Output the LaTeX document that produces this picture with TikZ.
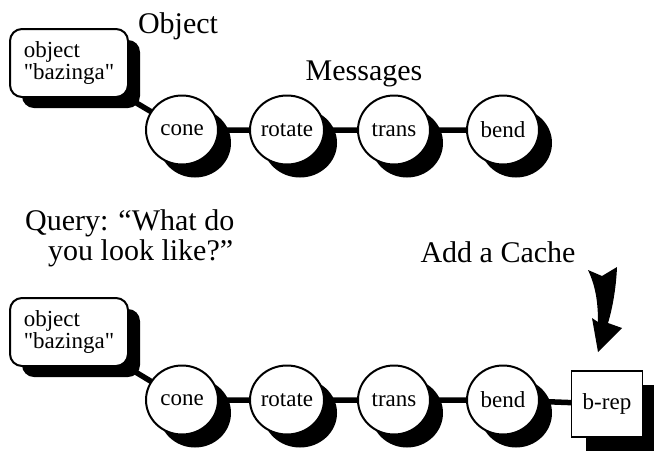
\documentclass[tikz,border=0pt]{standalone}
\usepackage{fontspec}
\setmainfont{Liberation Serif}[Ligatures=TeXOff]
\usetikzlibrary{shapes.geometric,shadows}
\pgfdeclarelayer{background}
\pgfsetlayers{background,main}
\tikzset{
  big/.style={font=\fontsize{30}{30}\selectfont, inner sep=0pt},
  msg/.style={ellipse, draw, line width=2pt, fill=white, minimum width=72pt, minimum height=69pt,
    inner sep=0pt, font=\fontsize{23}{20}\selectfont,
    drop shadow={shadow xshift=13pt, shadow yshift=-13pt, fill=black, opacity=1}},
  objbox/.style={rectangle, rounded corners=12pt, draw, line width=2pt, fill=white,
    minimum width=118pt, minimum height=68pt, align=left, inner sep=0pt,
    font=\fontsize{23}{20}\selectfont,
    drop shadow={shadow xshift=12pt, shadow yshift=-11pt, fill=black, opacity=1}},
  cachebox/.style={rectangle, draw, line width=1.6pt, fill=white, minimum width=71pt,
    minimum height=66pt, inner sep=0pt, font=\fontsize{23}{20}\selectfont,
    drop shadow={shadow xshift=14pt, shadow yshift=-14pt, fill=black, opacity=1}},
  link/.style={line width=5.5pt}
}
\begin{document}
\begin{tikzpicture}[x=1pt, y=-1pt]
\useasboundingbox (0,0) rectangle (654,451);
% top row
\node[big, anchor=base] (objlabel) at (178,33) {Object};
\node[big, anchor=base] (msglabel) at (364,80) {Messages};
\node[objbox] (obj1) at (69,63) {object\\"bazinga"};
\node[msg] (cone1) at (182,130) {cone};
\node[msg] (rot1) at (287,130) {rotate};
\node[msg] (trans1) at (394,130) {trans};
\node[msg] (bend1) at (503,130) {bend};
% bottom row
\node[big, align=left, anchor=base west] (query) at (25,260) {Query: “What do\\\hspace*{23pt}you look like?”};
\node[big, anchor=base] (cachelabel) at (498,262) {Add a Cache};
\node[objbox] (obj2) at (69,332) {object\\"bazinga"};
\node[msg] (cone2) at (182,400) {cone};
\node[msg] (rot2) at (287,400) {rotate};
\node[msg] (trans2) at (394,400) {trans};
\node[msg] (bend2) at (503,400) {bend};
\node[cachebox] (brep) at (607,404) {b-rep};
% connectors
\begin{pgfonlayer}{background}
\draw[link] (obj1.center) -- (cone1.center) -- (rot1.center) -- (trans1.center) -- (bend1.center);
\draw[link] (obj2.center) -- (cone2.center) -- (rot2.center) -- (trans2.center) -- (bend2.center) -- (brep.center);
\end{pgfonlayer}
% cache arrow
\fill (588,270) -- (602,276) -- (617,267)
  .. controls (616,290) and (612,310) .. (608,323)
  -- (622,328) -- (598,352) -- (592,318) -- (598,322)
  .. controls (598,300) and (595,285) .. (588,270) -- cycle;
\end{tikzpicture}
\end{document}
